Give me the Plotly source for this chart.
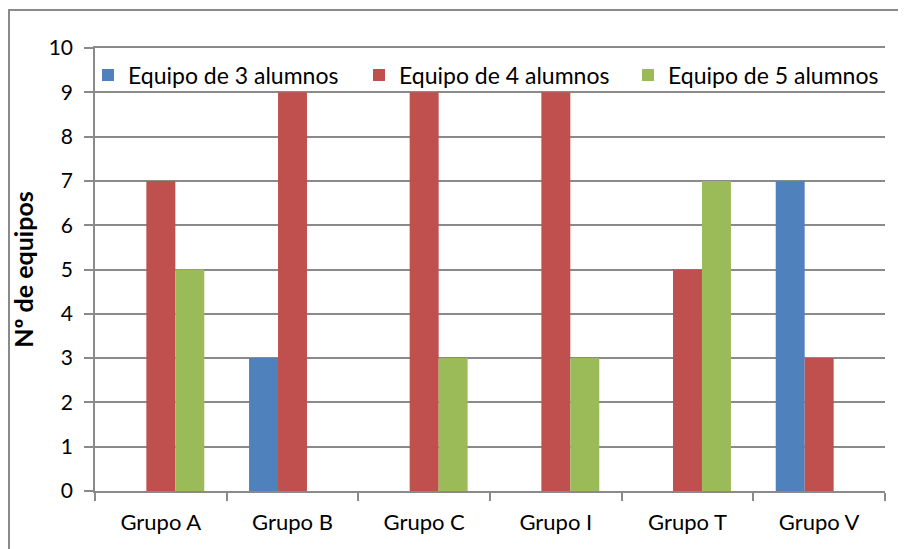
import plotly.graph_objects as go

categories = ["Grupo A", "Grupo B", "Grupo C", "Grupo I", "Grupo T", "Grupo V"]
series_names = ["Equipo de 3 alumnos", "Equipo de 4 alumnos", "Equipo de 5 alumnos"]
equipo3 = [0, 3, 0, 0, 0, 7]
equipo4 = [7, 9, 9, 9, 5, 3]
equipo5 = [5, 0, 3, 3, 7, 0]
colors = ["#4F81BD", "#C0504D", "#9BBB59"]
y_ticks = list(range(0, 11))

FONT = "Lato"
OFF = 8  # page body offset
W, H = 906 - OFF, 549 - OFF
L, R, T, B = 95 - OFF, 21, 48 - OFF, 58
pw, ph = W - L - R, H - T - B

legend_names = ["legend", "legend2", "legend3"]
legend_px = [88, 359, 628]  # page x of legend left edges

fig = go.Figure()
for name, vals, col, lg in zip(series_names, [equipo3, equipo4, equipo5], colors, legend_names):
    fig.add_trace(go.Bar(x=categories, y=vals, name=name, legend=lg,
                         marker=dict(color=col, line=dict(width=0))))

grid = "#8a8a8a"
legend_common = dict(orientation="h", xanchor="left", y=1 - 27 / ph, yanchor="middle",
                     bgcolor="rgba(0,0,0,0)", font=dict(family=FONT, size=23, color="black"))
layout_legends = {}
for lg, px in zip(legend_names, legend_px):
    layout_legends[lg] = dict(legend_common, x=(px - 95) / pw)

fig.update_layout(
    width=W, height=H,
    margin=dict(l=L, r=R, t=T, b=B, pad=0),
    paper_bgcolor="white", plot_bgcolor="white",
    barmode="group", bargap=0.34, bargroupgap=0,
    font=dict(family=FONT, size=21, color="black"),
    showlegend=True,
    xaxis=dict(showline=True, linecolor=grid, linewidth=1.5, mirror=True,
               ticks="outside", tickson="boundaries", ticklen=8, tickcolor=grid, tickwidth=1.5,
               showgrid=False, tickfont=dict(size=22), ticklabelstandoff=11),
    yaxis=dict(range=[0, 10], tickvals=y_ticks, showline=True, linecolor=grid, linewidth=1.5,
               ticks="outside", ticklen=9, tickcolor=grid, tickwidth=1.5,
               showgrid=True, gridcolor=grid, gridwidth=1.5, zeroline=False,
               tickfont=dict(size=21), ticklabelstandoff=7,
               title=dict(text="<b>Nº de equipos</b>", font=dict(size=25), standoff=10)),
    shapes=[dict(type="rect", xref="paper", yref="paper",
                 x0=(1 - L) / pw, x1=(930 - L) / pw,
                 y0=-(B + 40) / ph, y1=(H - B - 2) / ph,
                 line=dict(color="#8a8a8a", width=2), fillcolor="rgba(0,0,0,0)", layer="below")],
    **layout_legends,
)
fig.write_html("out.html")
